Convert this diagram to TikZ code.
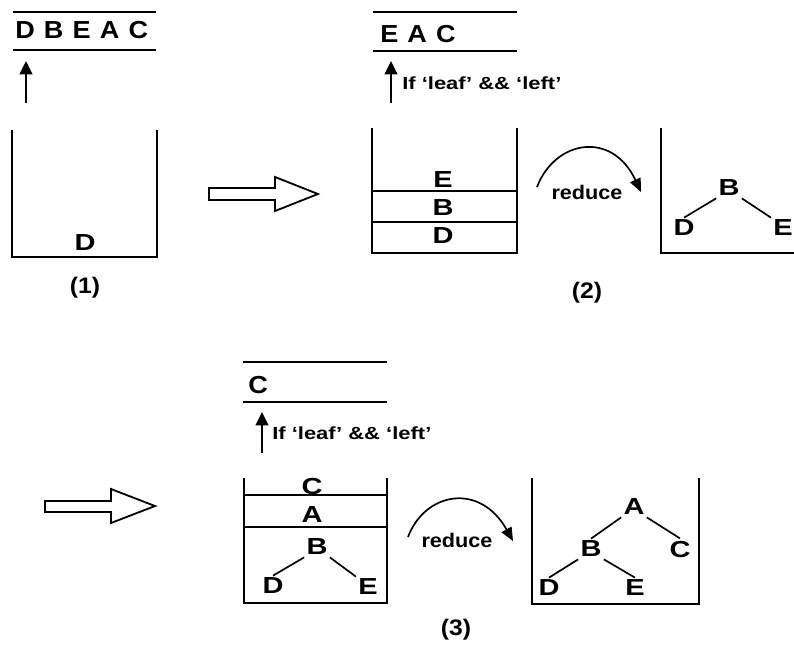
\documentclass[tikz,border=0pt]{standalone}
\usepackage{fontspec}
\newfontfamily\qfam[FakeStretch=1.1]{Liberation Sans}
\newfontfamily\wfam[FakeStretch=1.25]{Liberation Sans}
\usetikzlibrary{arrows.meta}

\begin{document}
\begin{tikzpicture}[x=0.025cm,y=-0.025cm,
		wall/.style={draw=black,line width=1.4pt},
		sep/.style={draw=black,line width=1.3pt},
		edge/.style={draw=black,line width=1.2pt},
		push/.style={-{Triangle[length=9.5pt,width=9pt]},draw=black,line width=1.3pt},
		redu/.style={-{Triangle[length=9.5pt,width=8pt]},draw=black,line width=1.2pt},
		hollow/.style={draw=black,line width=1.3pt,fill=white},
		que/.style={anchor=base west,inner sep=0pt,font=\qfam\bfseries\fontsize{17.5}{20}\selectfont},
		let/.style={inner sep=1.5pt,font=\wfam\bfseries\fontsize{16.5}{19}\selectfont},
		cond/.style={anchor=west,inner sep=0pt,font=\wfam\bfseries\fontsize{12.5}{14}\selectfont},
		lbl/.style={inner sep=1pt,font=\qfam\bfseries\fontsize{16}{18}\selectfont}]
	\useasboundingbox (0,0) rectangle (794,660);
	%% (1) input queue and empty stack
	\draw[sep] (13,12) -- (156,12);
	\draw[sep] (13,50) -- (156,50);
	\node[que] (q1) at (15,38) {D\hspace{6.5pt}B\hspace{6.5pt}E\hspace{6.5pt}A\hspace{6.5pt}C};
	\coordinate (p1a) at (26,103);
	\coordinate (p1b) at (26,61);
	\draw[push] (p1a) -- (p1b);
	\draw[wall] (12,130) -- (12,257) -- (157,257) -- (157,130);
	\node[let] (s1D) at (85,243) {D};
	\node[lbl] (l1) at (85,288) {(1)};
	\draw[hollow] (209,188) -- (275,188) -- (275,177) -- (318,194) -- (275,211) -- (275,200) -- (209,200) -- cycle;
	%% (2) shift E, then reduce
	\draw[sep] (373,12) -- (517,12);
	\draw[sep] (373,51) -- (517,51);
	\node[que] (q2) at (380,42) {E\hspace{6.5pt}A\hspace{6.5pt}C};
	\coordinate (p2a) at (391,103);
	\coordinate (p2b) at (391,61);
	\draw[push] (p2a) -- (p2b);
	\node[cond] (c2) at (402,83) {If ‘leaf’ \&\& ‘left’};
	\draw[wall] (372,128) -- (372,253) -- (517,253) -- (517,128);
	\draw[sep] (372,191) -- (517,191);
	\draw[sep] (372,222) -- (517,222);
	\node[let] (s2E) at (443,180) {E};
	\node[let] (s2B) at (443,208) {B};
	\node[let] (s2D) at (443,236) {D};
	\coordinate (r2a) at (537,187);
	\coordinate (r2b) at (641,192);
	\draw[redu] (r2a) .. controls (555,140) and (612,130) .. (r2b);
	\node[lbl,font=\qfam\bfseries\fontsize{14}{16}\selectfont] (r2) at (587,192) {reduce};
	\draw[wall] (661,128) -- (661,253) -- (794,253);
	\node[let] (t2B) at (729,188) {B};
	\node[let] (t2D) at (684,228) {D};
	\node[let] (t2E) at (783,228) {E};
	\draw[edge] (t2B.south west) -- (t2D.north);
	\draw[edge] (t2B.south east) -- (t2E.north west);
	\node[lbl] (l2) at (587,293) {(2)};
	%% (3) shift C, then reduce again
	\draw[hollow] (45,501) -- (111,501) -- (111,489) -- (155,506) -- (111,523) -- (111,512) -- (45,512) -- cycle;
	\draw[sep] (243,362) -- (387,362);
	\draw[sep] (243,402) -- (387,402);
	\node[que] (q3) at (248,393) {C};
	\coordinate (p3a) at (262,453);
	\coordinate (p3b) at (262,412);
	\draw[push] (p3a) -- (p3b);
	\node[cond] (c3) at (272,433) {If ‘leaf’ \&\& ‘left’};
	\draw[wall] (244,478) -- (244,603) -- (387,603) -- (387,478);
	\draw[sep] (244,495) -- (387,495);
	\draw[sep] (244,527) -- (387,527);
	\node[let] (s3C) at (312,486) {C};
	\node[let] (s3A) at (312,515) {A};
	\node[let] (s3B) at (317,547) {B};
	\node[let] (s3D) at (273,586) {D};
	\node[let] (s3E) at (368,587) {E};
	\draw[edge] (s3B.south west) -- (s3D.north);
	\draw[edge] (s3B.south east) -- (s3E.north west);
	\coordinate (r3a) at (408,537);
	\coordinate (r3b) at (513,541);
	\draw[redu] (r3a) .. controls (425,492) and (480,482) .. (r3b);
	\node[lbl,font=\qfam\bfseries\fontsize{14}{16}\selectfont] (r3) at (457,540) {reduce};
	\draw[wall] (532,478) -- (532,604) -- (699,604) -- (699,478);
	\node[let] (t3A) at (634,507) {A};
	\node[let] (t3B) at (591,549) {B};
	\node[let] (t3C) at (680,549) {C};
	\node[let] (t3D) at (549,588) {D};
	\node[let] (t3E) at (635,588) {E};
	\draw[edge] (t3A.south west) -- (t3B.north);
	\draw[edge] (t3A.south east) -- (t3C.north);
	\draw[edge] (t3B.south west) -- (t3D.north);
	\draw[edge] (t3B.south east) -- (t3E.north);
	\node[lbl] (l3) at (456,630) {(3)};
\end{tikzpicture}
\end{document}
